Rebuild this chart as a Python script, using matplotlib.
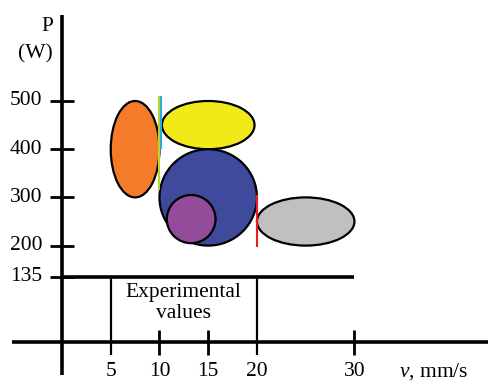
import matplotlib
matplotlib.use("Agg")
import matplotlib.pyplot as plt
from matplotlib.patches import Ellipse

plt.rcParams["font.family"] = ["Liberation Serif", "DejaVu Serif"]
plt.rcParams["mathtext.fontset"] = "custom"
plt.rcParams["mathtext.it"] = "Liberation Serif:italic"
plt.rcParams["mathtext.rm"] = "Liberation Serif"

# ellipses: centre v, centre P, width (mm/s), height (W), colour
ell_v = [7.5, 15, 15, 13.25, 25]
ell_p = [400, 450, 300, 255, 250]
ell_w = [5, 9.5, 10, 5, 10]
ell_h = [200, 100, 200, 100, 100]
ell_colors = ["#F47B2A", "#F2EA18", "#3F4A9C", "#924C9A", "#C0C0C0"]

# coloured vertical markers: v, P start, P end, colour
mark_v = [10, 10.2, 20]
mark_p0 = [315, 400, 198]
mark_p1 = [510, 510, 305]
mark_colors = ["#B8D433", "#29ABE2", "#ED1C24"]

y_ticks = [500, 400, 300, 200, 135]
x_ticks = [5, 10, 15, 20, 30]
p_exp = 135
v_exp = [5, 20]

fig = plt.figure(figsize=(4.88, 3.81), dpi=100)
ax = fig.add_axes([0, 0, 1, 1])
ax.set_xlim(-6.36, 43.7)
ax.set_ylim(-80.9, 709.5)
ax.axis("off")

fs = 15.5

for v, p, w, h, c in zip(ell_v, ell_p, ell_w, ell_h, ell_colors):
    ax.add_patch(Ellipse((v, p), w, h, facecolor=c, edgecolor="black", lw=1.6, zorder=2))

for v, p0, p1, c in zip(mark_v, mark_p0, mark_p1, mark_colors):
    ax.plot([v, v], [p0, p1], color=c, lw=1.5, zorder=3, solid_capstyle="butt")

# axes
ax.plot([0, 0], [-68, 678], color="black", lw=2.6, solid_capstyle="butt")
ax.plot([-5.1, 43.7], [0, 0], color="black", lw=2.6, solid_capstyle="butt")

for p in y_ticks:
    ax.plot([-1.23, 1.23], [p, p], color="black", lw=2.0, solid_capstyle="butt")
    ax.text(-2.05, p, str(p), ha="right", va="center", fontsize=fs)

for v in x_ticks:
    if v in v_exp:
        ax.plot([v, v], [p_exp, -27], color="black", lw=1.6, solid_capstyle="butt")
    else:
        ax.plot([v, v], [25, -27], color="black", lw=2.0, solid_capstyle="butt")
    ax.text(v, -62, str(v), ha="center", va="center", fontsize=fs)

ax.plot([0, 30], [p_exp, p_exp], color="black", lw=2.6, solid_capstyle="butt")
ax.text(sum(v_exp) / 2, 102, "Experimental", ha="center", va="center", fontsize=fs)
ax.text(sum(v_exp) / 2, 60, "values", ha="center", va="center", fontsize=fs)

ax.text(-1.45, 654, "P", ha="center", va="center", fontsize=fs)
ax.text(-0.9, 597, "(W)", ha="right", va="center", fontsize=fs)
ax.text(34.6, -62, "$\\it{v}$, mm/s", ha="left", va="center", fontsize=fs)

fig.savefig("out.png", dpi=100)
